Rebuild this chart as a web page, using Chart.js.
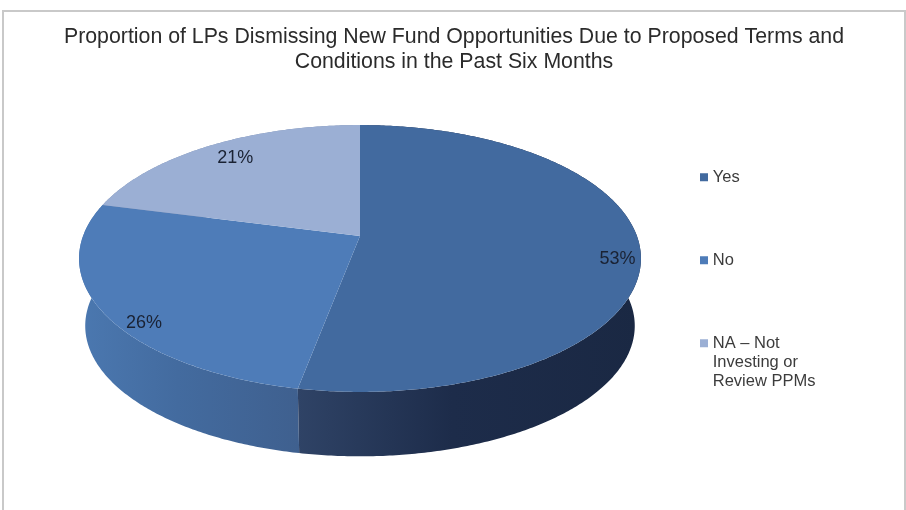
<!DOCTYPE html>
<html><head><meta charset="utf-8">
<style>
html,body{margin:0;padding:0;background:#fff;overflow:hidden}
#wrap{position:relative;width:906px;height:510px;overflow:hidden}
#frame{position:absolute;left:2px;top:10px;width:900px;height:520px;border:2px solid #c9c9c9}
canvas{position:absolute;left:0;top:0}
</style>
<script src="https://cdn.jsdelivr.net/npm/chart.js@4"></script>
</head><body>
<div id="wrap"><div id="frame"></div><canvas id="c" width="906" height="510"></canvas></div>
<script>
const titleLines = ["Proportion of LPs Dismissing New Fund Opportunities Due to Proposed Terms and","Conditions in the Past Six Months"];
const categories = [["Yes"],["No"],["NA – Not","Investing or","Review PPMs"]];
const shares = [53,26,21];
const topColors = ["#426a9f","#4e7cb8","#9bafd4"];
const sideStops = [["#2f4366","#1d2c4a","#1a2843"],["#4b78b0","#436b9f","#3f608f"],["#7d8fb0","#7d8fb0","#7d8fb0"]];
const labelRadius = [0.92,0.853,0.859];
const labelShiftX = [0,0,6];
const labelShiftY = [12,23,1];

// view of the tilted disc, relative to the radius Chart.js assigns
const persp = {k:0.1685, ax:2.495, by:1.168, s:0.978, vanishY:3320};

function rimPoint(arc,t,r=1){
  const R=arc.outerRadius, u=Math.cos(t)*r, v=Math.sin(t)*r, w=1-persp.k*v;
  return {x:arc.x+persp.ax*R*u/w, y:arc.y+persp.by*R*v/w};
}
function lowered(arc,p){
  return {x:arc.x+persp.s*(p.x-arc.x), y:persp.s*p.y+(1-persp.s)*persp.vanishY};
}
function samples(arc){
  const out=[], n=Math.max(4,Math.ceil((arc.endAngle-arc.startAngle)/0.01));
  for(let i=0;i<=n;i++) out.push(rimPoint(arc,arc.startAngle+(arc.endAngle-arc.startAngle)*i/n));
  return out;
}
const disc3d = {
  id:'disc3d',
  beforeDatasetsDraw(chart){
    const ctx=chart.ctx, arcs=chart.getDatasetMeta(0).data;
    ctx.save();
    [2,1,0].forEach(i=>{
      const arc=arcs[i], pts=samples(arc), xs=pts.map(p=>p.x);
      const low=pts.map(p=>lowered(arc,p)).reverse();
      const g=ctx.createLinearGradient(Math.min(...xs),0,Math.max(...xs),0);
      const st=sideStops[i];
      g.addColorStop(0,st[0]);g.addColorStop(0.45,st[1]);g.addColorStop(1,st[2]);
      ctx.fillStyle=g;ctx.beginPath();
      pts.concat(low).forEach((p,j)=>j?ctx.lineTo(p.x,p.y):ctx.moveTo(p.x,p.y));
      ctx.closePath();ctx.fill();
    });
    arcs.forEach((arc,i)=>{
      ctx.fillStyle=topColors[i];ctx.beginPath();ctx.moveTo(arc.x,arc.y);
      samples(arc).forEach(p=>ctx.lineTo(p.x,p.y));
      ctx.closePath();ctx.fill();
    });
    ctx.font='18px "Liberation Sans"';ctx.fillStyle='#1a2233';ctx.textAlign='center';ctx.textBaseline='middle';
    arcs.forEach((arc,i)=>{
      const p=rimPoint(arc,(arc.startAngle+arc.endAngle)/2,labelRadius[i]);
      ctx.fillText(shares[i]+'%',p.x+labelShiftX[i],p.y+labelShiftY[i]);
    });
    ctx.restore();
    return false;
  },
  afterLayout(chart){
    const lg=chart.legend, pad=lg.options.labels.padding;
    const w=lg.right-lg.left;
    lg.left=703.5-pad; lg.right=lg.left+w;
    lg.top=169-pad; lg.bottom=lg.top+400;
    chart.titleBlock.left=0; chart.titleBlock.right=908;
  }
};
new Chart(document.getElementById('c'),{
  type:'pie',
  data:{labels:categories,datasets:[{data:shares,backgroundColor:topColors,borderWidth:0}]},
  plugins:[disc3d],
  options:{
    responsive:false,animation:false,
    layout:{padding:{left:82.7,right:0,top:0,bottom:163}},
    events:[],
    plugins:{
      tooltip:{enabled:false},
      title:{display:true,text:titleLines,color:'#2b2b2b',font:{family:'"Liberation Sans"',size:21.3,weight:'normal',lineHeight:1.174},padding:{top:25,bottom:50}},
      legend:{position:'right',align:'start',labels:{usePointStyle:true,pointStyle:'rect',boxWidth:1,boxHeight:8,padding:64,color:'#3c3c3c',font:{family:'"Liberation Sans"',size:16.5,lineHeight:1.15}}}
    }
  }
});
</script></body></html>
